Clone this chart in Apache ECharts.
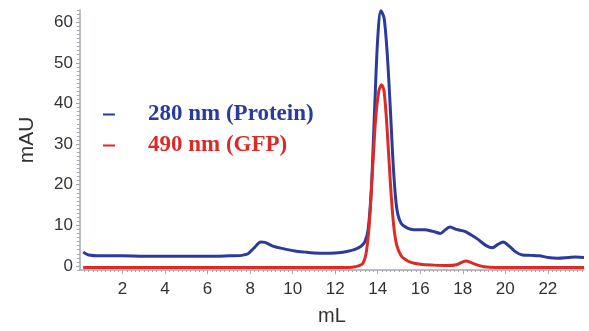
<!DOCTYPE html>
<html>
<head>
<meta charset="utf-8">
<script src="https://cdn.jsdelivr.net/npm/echarts@6/dist/echarts.min.js"></script>
<style>
  html, body { margin: 0; padding: 0; background: #fff; }
  #chart { width: 589px; height: 331px; }
</style>
</head>
<body>
<div id="chart"></div>
<script>
// 280 nm trace (protein)
const proteinML = [0.15, 0.4, 1, 2, 3, 4, 5, 6, 7, 7.6, 7.9, 8.2, 8.5, 8.7, 9.1, 9.6, 10.1, 10.6, 11.0, 11.5,
  12.0, 12.5, 12.9, 13.2, 13.4, 13.55, 13.7, 13.85, 14.0, 14.15, 14.3, 14.45, 14.6, 14.75, 14.9, 15.1, 15.4, 15.7,
  16.2, 16.6, 16.95, 17.2, 17.4, 17.7, 18.1, 18.4, 18.7, 19.1, 19.4, 19.65, 19.9, 20.2, 20.5, 20.8, 21.2, 21.6,
  22.0, 22.45, 23.0, 23.3, 23.7];
const proteinMAU = [3.4, 2.7, 2.5, 2.5, 2.4, 2.4, 2.4, 2.4, 2.5, 2.6, 3.0, 4.5, 5.9, 5.8, 4.8, 4.2, 3.7, 3.4, 3.2, 3.1,
  3.2, 3.5, 4.0, 4.8, 6.0, 9, 19, 38, 56, 62.8, 61, 52, 38, 23, 14, 10.5, 9.3, 8.9,
  8.9, 8.5, 8.0, 9.0, 9.6, 9.0, 8.5, 7.6, 6.6, 5.0, 4.5, 5.3, 5.9, 4.8, 3.4, 2.7, 2.6, 2.5,
  2.1, 1.9, 2.1, 2.2, 2.1];

// 490 nm trace (GFP)
const gfpML = [0.15, 2, 4, 6, 8, 10, 12, 12.8, 13.1, 13.3, 13.45, 13.6, 13.75, 13.9, 14.05, 14.18, 14.3, 14.45,
  14.6, 14.75, 14.9, 15.1, 15.3, 15.6, 16.0, 16.6, 17.3, 17.7, 18.0, 18.15, 18.4, 18.7, 19.0, 19.5, 21, 23.7];
const gfpMAU = [-0.4, -0.4, -0.4, -0.4, -0.4, -0.4, -0.4, -0.3, 0, 0.6, 3, 10, 23, 36, 43, 44.6, 43, 33,
  20, 10, 5, 2.5, 1.6, 0.8, 0.4, 0.2, 0.1, 0.3, 1.0, 1.2, 0.8, 0.2, -0.2, -0.4, -0.4, -0.4];

const seriesNames = ['280 nm (Protein)', '490 nm (GFP)'];
const yTickValues = [0, 10, 20, 30, 40, 50, 60];
const xTickValues = [2, 4, 6, 8, 10, 12, 14, 16, 18, 20, 22];

const BLUE = '#2b3b9c';
const RED = '#dc2b27';
const AXIS = '#a3a8b4';
const LABEL = '#333';

const zip = (xs, ys) => xs.map((x, i) => [x, ys[i]]);

const chart = echarts.init(document.getElementById('chart'));

chart.setOption({
  animation: false,
  backgroundColor: '#fff',
  grid: { left: 80, right: 5, top: 10, bottom: 59 },
  legend: {
    orient: 'vertical',
    left: 103,
    top: 103,
    padding: 0,
    itemGap: 8,
    itemWidth: 12,
    itemHeight: 2,
    icon: 'rect',
    textStyle: {
      fontFamily: 'Liberation Serif',
      fontWeight: 'bold',
      fontSize: 23,
      lineHeight: 22,
      padding: [0, 0, 0, 28]
    },
    data: [
      { name: seriesNames[0], textStyle: { color: BLUE } },
      { name: seriesNames[1], textStyle: { color: RED } }
    ]
  },
  xAxis: [
    {
      type: 'value',
      min: 0,
      max: 23.7,
      interval: 2,
      name: 'mL',
      nameLocation: 'middle',
      nameGap: 36,
      nameTextStyle: { fontFamily: 'Liberation Sans', fontSize: 20, color: LABEL },
      splitLine: { show: false },
      axisLine: { onZero: false, lineStyle: { color: AXIS, width: 1.5 } },
      axisTick: { customValues: xTickValues, length: 4, lineStyle: { color: AXIS } },
      minorTick: { show: true, splitNumber: 10, length: 2, lineStyle: { color: AXIS } },
      axisLabel: {
        customValues: xTickValues,
        margin: 11,
        fontFamily: 'Liberation Sans',
        fontSize: 17,
        color: LABEL
      }
    }
  ],
  yAxis: [
    {
      type: 'value',
      min: -1,
      max: 63,
      name: 'mAU',
      nameLocation: 'middle',
      nameRotate: 90,
      nameGap: 42,
      nameTextStyle: { fontFamily: 'Liberation Sans', fontSize: 21, color: LABEL },
      splitLine: { show: false },
      axisLine: { show: true, onZero: false, lineStyle: { color: AXIS, width: 1.5 } },
      axisTick: { show: true, customValues: yTickValues, length: 4, lineStyle: { color: AXIS } },
      axisLabel: {
        customValues: yTickValues,
        margin: 7,
        fontFamily: 'Liberation Sans',
        fontSize: 17,
        color: LABEL
      }
    },
    {
      // minor ticks every 1 mAU
      type: 'value',
      min: -1,
      max: 63,
      interval: 1,
      position: 'left',
      offset: 0,
      splitLine: { show: false },
      axisLine: { show: true, onZero: false, lineStyle: { color: AXIS, opacity: 0 } },
      axisTick: { show: true, length: 3, lineStyle: { color: AXIS } },
      axisLabel: { show: false }
    }
  ],
  series: [
    {
      name: seriesNames[0],
      type: 'line',
      data: zip(proteinML, proteinMAU),
      smooth: 0.3,
      showSymbol: false,
      color: BLUE,
      lineStyle: { color: BLUE, width: 3 },
      z: 2
    },
    {
      name: seriesNames[1],
      type: 'line',
      data: zip(gfpML, gfpMAU),
      smooth: 0.3,
      showSymbol: false,
      color: RED,
      lineStyle: { color: RED, width: 3 },
      z: 3
    }
  ]
});
</script>
</body>
</html>
